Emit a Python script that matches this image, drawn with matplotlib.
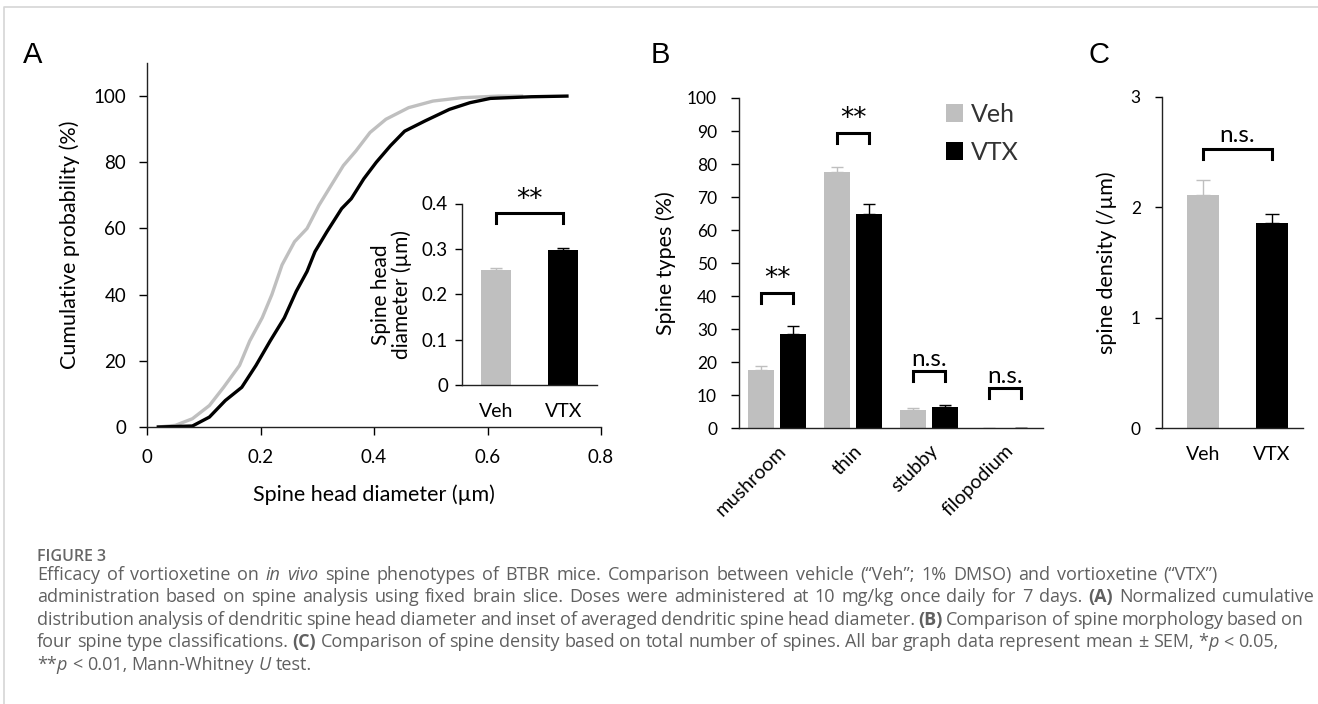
import numpy as np
import matplotlib.pyplot as plt

plt.rcParams['font.family'] = ['Lato', 'DejaVu Sans']

W, H = 1318, 704

# ---- panel A: cumulative distribution of spine head diameter ----
veh_x = [0.02, 0.05, 0.08, 0.11, 0.135, 0.163, 0.181, 0.203, 0.22, 0.238, 0.26, 0.282,
         0.303, 0.328, 0.346, 0.368, 0.393, 0.421, 0.461, 0.504, 0.554, 0.62, 0.66]
veh_y = [0, 0.5, 2.5, 6.5, 12, 18.6, 26, 33, 40, 49, 56, 60,
         67, 74, 79, 83.4, 89, 93, 96.5, 98.5, 99.5, 100, 100]
vtx_x = [0.02, 0.08, 0.11, 0.138, 0.167, 0.192, 0.217, 0.242, 0.263, 0.282, 0.296, 0.317,
         0.343, 0.36, 0.382, 0.404, 0.429, 0.454, 0.49, 0.533, 0.569, 0.605, 0.677, 0.74]
vtx_y = [0, 0.3, 3, 8, 12, 18.6, 26, 33, 41, 47, 53, 59,
         66, 69, 75, 80, 85, 89.4, 92.5, 96, 98, 99.3, 99.8, 100]

groups = ['Veh', 'VTX']
inset_mean = [0.254, 0.298]
inset_sem = [0.003, 0.004]

# ---- panel B: spine types ----
spine_types = ['mushroom', 'thin', 'stubby', 'filopodium']
types_veh = [17.5, 77.5, 5.5, 0.15]
types_veh_sem = [1.4, 1.7, 0.7, 0.0]
types_vtx = [28.5, 65.0, 6.5, 0.1]
types_vtx_sem = [2.6, 2.9, 0.7, 0.0]
types_sig = ['**', '**', 'n.s.', 'n.s.']
types_bracket = [41.0, 89.4, 17.4, 12.1]

# ---- panel C: spine density ----
density_mean = [2.11, 1.86]
density_sem = [0.14, 0.08]

GRAY = '#BFBFBF'


def bracket(ax, x0, x1, y, drop, label, gap=0.0):
    ax.plot([x0, x0, x1, x1], [y - drop, y, y, y - drop], color='k', lw=2.2,
            solid_joinstyle='miter', clip_on=False)
    if label == '**':
        ax.text((x0 + x1) / 2, y + gap, label, ha='center', va='bottom', fontsize=19,
                family=['DejaVu Sans'], clip_on=False)
    else:
        ax.text((x0 + x1) / 2, y + gap, label, ha='center', va='bottom', fontsize=17.5,
                clip_on=False)


def clean(ax):
    ax.spines['top'].set_visible(False)
    ax.spines['right'].set_visible(False)
    for s in ['left', 'bottom']:
        ax.spines[s].set_linewidth(1.0)
        ax.spines[s].set_color('#222222')


fig = plt.figure(figsize=(W / 100, H / 100), dpi=100)

# panel A
axA = fig.add_axes([147 / W, 1 - 427 / H, 454 / W, 364 / H])
axA.plot(veh_x, veh_y, color=GRAY, lw=2.4)
axA.plot(vtx_x, vtx_y, color='k', lw=2.4)
axA.set_xlim(0, 0.8)
axA.set_ylim(0, 110)
axA.set_xticks([0, 0.2, 0.4, 0.6, 0.8])
axA.set_xticklabels(['0', '0.2', '0.4', '0.6', '0.8'])
axA.set_yticks([0, 20, 40, 60, 80, 100])
axA.tick_params(axis='both', direction='out', length=6, width=1.0, labelsize=13.5)
axA.tick_params(axis='x', pad=10)
axA.tick_params(axis='y', pad=9)
clean(axA)
axA.set_ylabel('Cumulative probability (%)', fontsize=15.5, labelpad=10)
axA.set_xlabel('Spine head diameter (µm)', fontsize=15.5, labelpad=13)

# inset
axI = fig.add_axes([462 / W, 1 - 385 / H, 135 / W, 181.5 / H])
axI.bar([0, 1], inset_mean, width=0.45, color=[GRAY, 'k'])
axI.errorbar([0], inset_mean[:1], yerr=[[0], inset_sem[:1]], fmt='none', ecolor=GRAY,
             capsize=4, elinewidth=1, capthick=1)
axI.errorbar([1], inset_mean[1:], yerr=[[0], inset_sem[1:]], fmt='none', ecolor='k',
             capsize=4, elinewidth=1, capthick=1)
axI.set_xlim(-0.5, 1.5)
axI.set_ylim(0, 0.4)
axI.set_xticks([0, 1])
axI.set_xticklabels(groups)
axI.set_yticks([0, 0.1, 0.2, 0.3, 0.4])
axI.set_yticklabels(['0', '0.1', '0.2', '0.3', '0.4'])
axI.tick_params(axis='y', direction='out', length=5, width=1.0, labelsize=13.5, pad=5)
axI.tick_params(axis='x', length=0, labelsize=14, pad=13)
clean(axI)
axI.set_ylabel('Spine head\ndiameter (µm)', fontsize=15, labelpad=7, linespacing=1.05)
bracket(axI, 0, 1, 0.378, 0.022, '**', gap=0.0)

# panel B
axB = fig.add_axes([739.3 / W, 1 - 428.3 / H, 303.7 / W, 330.3 / H])
xb = np.arange(len(spine_types))
off, bw = 0.21, 0.34
axB.bar(xb - off, types_veh, width=bw, color=GRAY, label='Veh')
axB.bar(xb + off, types_vtx, width=bw, color='k', label='VTX')
axB.errorbar(xb - off, types_veh, yerr=[np.zeros(4), types_veh_sem], fmt='none',
             ecolor=GRAY, capsize=4, elinewidth=1, capthick=1)
axB.errorbar(xb + off, types_vtx, yerr=[np.zeros(4), types_vtx_sem], fmt='none',
             ecolor='k', capsize=4, elinewidth=1, capthick=1)
axB.set_xlim(-0.5, 3.5)
axB.set_ylim(0, 100)
axB.set_yticks(range(0, 101, 10))
axB.set_xticks(xb)
axB.set_xticklabels(spine_types, rotation=45, ha='right', va='top', rotation_mode='anchor')
axB.tick_params(axis='y', direction='out', length=6, width=1.0, labelsize=12.5, pad=10)
axB.tick_params(axis='x', length=0, labelsize=14, pad=10)
clean(axB)
axB.set_ylabel('Spine types (%)', fontsize=15.5, labelpad=8)
for i in range(len(spine_types)):
    bracket(axB, xb[i] - off, xb[i] + off, types_bracket[i], 3.0, types_sig[i], gap=0.4)
leg = axB.legend(loc='upper left', bbox_to_anchor=(0.68, 0.985), frameon=False,
                 fontsize=18, handlelength=0.7, handleheight=0.7, handletextpad=0.3,
                 labelspacing=0.6, borderpad=0, borderaxespad=0)
for t in leg.get_texts():
    t.set_color('#333333')

# panel C
axC = fig.add_axes([1161.7 / W, 1 - 428.3 / H, 141.3 / W, 331.6 / H])
axC.bar([0, 1], density_mean, width=0.47, color=[GRAY, 'k'])
axC.errorbar([0], density_mean[:1], yerr=[[0], density_sem[:1]], fmt='none', ecolor=GRAY,
             capsize=5, elinewidth=1, capthick=1)
axC.errorbar([1], density_mean[1:], yerr=[[0], density_sem[1:]], fmt='none', ecolor='k',
             capsize=5, elinewidth=1, capthick=1)
axC.set_xlim(-0.6, 1.45)
axC.set_ylim(0, 3)
axC.set_yticks([0, 1, 2, 3])
axC.set_xticks([0, 1])
axC.set_xticklabels(groups)
axC.tick_params(axis='y', direction='out', length=5, width=1.0, labelsize=12.5, pad=10)
axC.tick_params(axis='x', length=0, labelsize=14, pad=13)
clean(axC)
axC.set_ylabel('spine density (/µm)', fontsize=15.5, labelpad=10)
bracket(axC, 0, 1, 2.53, 0.09, 'n.s.', gap=0.02)

# panel letters
for lab, px in [('A', 33), ('B', 660), ('C', 1099)]:
    fig.text(px / W, 1 - 55 / H, lab, fontsize=21, ha='center', va='center',
             family=['Liberation Sans', 'DejaVu Sans'])

# light frame round the figure
fig.add_artist(plt.Line2D([4 / W, 4 / W, 1], [0, 1 - 7 / H, 1 - 7 / H],
                          color='#D6D6D6', lw=1.2, transform=fig.transFigure))

# caption with mixed styles, justified like the journal layout
cap_font = ['Open Sans', 'DejaVu Sans']
cap_size = 13.0
cap_col = '#606060'
renderer = fig.canvas.get_renderer()


def run_width(s, style):
    a = fig.text(0, 0, 'x' + s + 'x', fontsize=cap_size, family=cap_font, **style)
    b = fig.text(0, 0, 'xx', fontsize=cap_size, family=cap_font, **style)
    w = a.get_window_extent(renderer).width - b.get_window_extent(renderer).width
    a.remove()
    b.remove()
    return w


def draw_line(x_px, y_px, runs, right=None):
    toks = []
    pending = False
    for s, st in runs:
        for j, p in enumerate(s.split(' ')):
            if j > 0:
                pending = True
            if p:
                toks.append((p, st, pending and len(toks) > 0))
                pending = False
    widths = [run_width(p, st) for p, st, _ in toks]
    n_sp = sum(1 for t in toks if t[2])
    sp = run_width(' ', {})
    if right is not None and n_sp:
        sp = (right - x_px - sum(widths)) / n_sp
    x = x_px
    for (p, st, gap), w in zip(toks, widths):
        if gap:
            x += sp
        fig.text(x / W, 1 - y_px / H, p, fontsize=cap_size, family=cap_font,
                 color=cap_col, ha='left', va='baseline', **st)
        x += w


N = {}
I = {'style': 'italic'}
B = {'weight': 'bold'}
fig.text(37 / W, 1 - 561 / H, 'FIGURE 3', fontsize=11.5, family=cap_font, color='#666666',
         weight='semibold', ha='left', va='baseline')
cap_lines = [
    [('Efficacy of vortioxetine on ', N), ('in vivo', I),
     (' spine phenotypes of BTBR mice. Comparison between vehicle (“Veh”; 1% DMSO) and vortioxetine (“VTX”)', N)],
    [('administration based on spine analysis using fixed brain slice. Doses were administered at 10 mg/kg once daily for 7 days. ', N),
     ('(A)', B), (' Normalized cumulative', N)],
    [('distribution analysis of dendritic spine head diameter and inset of averaged dendritic spine head diameter. ', N),
     ('(B)', B), (' Comparison of spine morphology based on', N)],
    [('four spine type classifications. ', N), ('(C)', B),
     (' Comparison of spine density based on total number of spines. All bar graph data represent mean ± SEM, *', N),
     ('p', I), (' < 0.05,', N)],
    [('**', N), ('p', I), (' < 0.01, Mann-Whitney ', N), ('U', I), (' test.', N)],
]
cap_right = [1218, 1314, 1303, 1278, None]
for k, runs in enumerate(cap_lines):
    draw_line(37, 580 + k * 22.4, runs, cap_right[k])

fig.savefig('out.png', dpi=100)
